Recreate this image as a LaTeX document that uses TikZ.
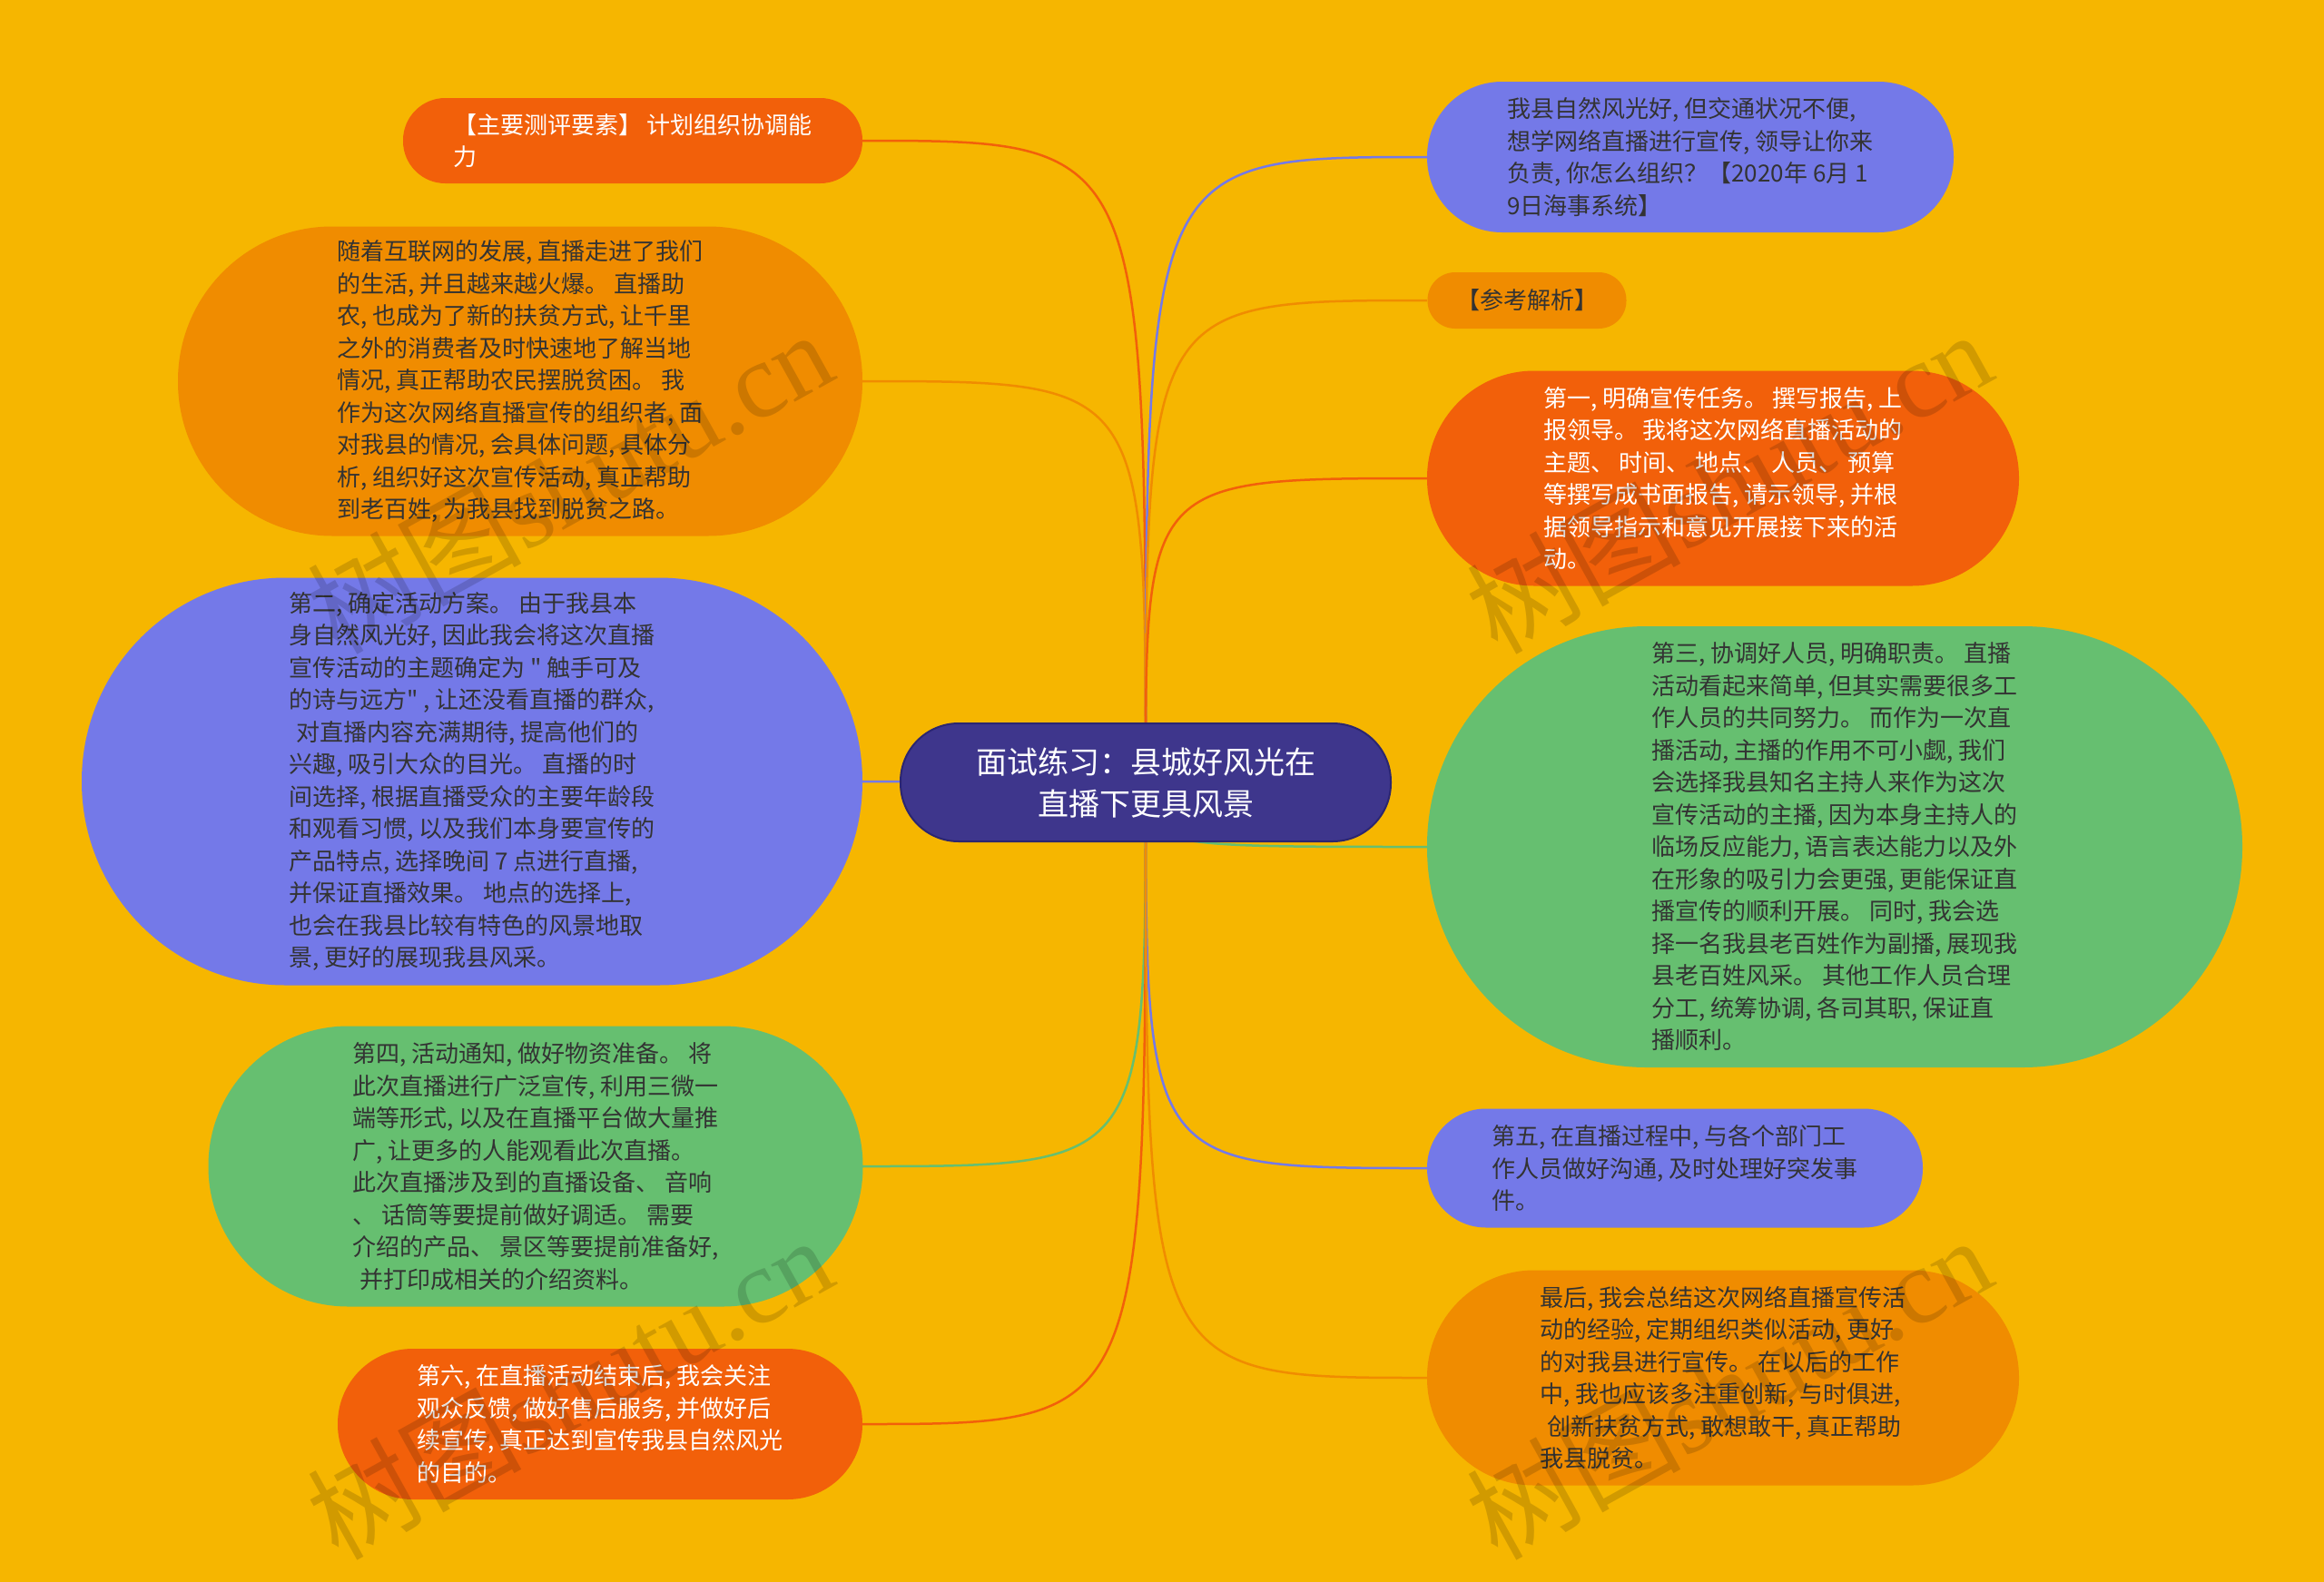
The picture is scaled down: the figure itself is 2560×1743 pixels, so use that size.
\documentclass[tikz,border=0pt]{standalone}
\usepackage{fontspec}
\setmainfont{Noto Sans CJK SC}[Ligatures=TeXOff]
\newfontfamily\wmlatin{Liberation Serif}
\usetikzlibrary{calc}
\definecolor{cbg}{HTML}{F6B600}
\definecolor{cOR}{HTML}{F2600A}
\definecolor{cOG}{HTML}{F08C00}
\definecolor{cBL}{HTML}{7479E8}
\definecolor{cGR}{HTML}{66BF70}
\definecolor{cCT}{HTML}{3E368C}
\definecolor{cCTb}{HTML}{2C2670}
\definecolor{cTX}{HTML}{333333}
\newcommand\mybody{\fontsize{26}{35.5}\selectfont}
\newcommand\mytitle{\fontsize{34}{46}\selectfont}
\begin{document}
\begin{tikzpicture}[x=1pt,y=-1pt,
  conn/.style={line width=2.5pt},
  pill/.style={rectangle, rounded corners=#1, inner sep=0pt, align=left, font=\mybody},
  wm/.style={text=black, text opacity=0.15, font=\fontsize{118}{118}\selectfont, inner sep=0pt}]
\fill[cbg] (0,0) rectangle (2560,1743);
\useasboundingbox (0,0) rectangle (2560,1743);

% center
\coordinate (c) at (1262,862);
\coordinate (n1e) at (950,155);
\coordinate (n2e) at (950,420);
\coordinate (n3e) at (950,861);
\coordinate (n4e) at (950,1285);
\coordinate (n5e) at (950,1569);
\coordinate (n7w) at (1572,173);
\coordinate (n8w) at (1572,331);
\coordinate (n9w) at (1572,527);
\coordinate (n10w) at (1572,933);
\coordinate (n11w) at (1572,1287);
\coordinate (n12w) at (1572,1518);

\draw[conn, cOR] (c) .. controls (c |- n1e) .. (n1e);
\draw[conn, cOG] (c) .. controls (c |- n2e) .. (n2e);
\draw[conn, cBL] (c) .. controls (c |- n3e) .. (n3e);
\draw[conn, cGR] (c) .. controls (c |- n4e) .. (n4e);
\draw[conn, cOR] (c) .. controls (c |- n5e) .. (n5e);
\draw[conn, cBL] (c) .. controls (c |- n7w) .. (n7w);
\draw[conn, cOG] (c) .. controls (c |- n8w) .. (n8w);
\draw[conn, cOR] (c) .. controls (c |- n9w) .. (n9w);
\draw[conn, cGR] (c) .. controls (c |- n10w) .. (n10w);
\draw[conn, cBL] (c) .. controls (c |- n11w) .. (n11w);
\draw[conn, cOG] (c) .. controls (c |- n12w) .. (n12w);

\node[pill=46.5pt, fill=cOR, text=white, minimum width=506pt, minimum height=94pt] (n1) at (697,155)
{【主要测评要素】 计划组织协调能\\力};

\node[pill=170pt, fill=cOG, text=cTX, minimum width=754pt, minimum height=341pt] (n2) at (573,420)
{随着互联网的发展, 直播走进了我们\\
的生活, 并且越来越火爆。 直播助\\
农, 也成为了新的扶贫方式, 让千里\\
之外的消费者及时快速地了解当地\\
情况, 真正帮助农民摆脱贫困。 我\\
作为这次网络直播宣传的组织者, 面\\
对我县的情况, 会具体问题, 具体分\\
析, 组织好这次宣传活动, 真正帮助\\
到老百姓, 为我县找到脱贫之路。};

\node[pill=224pt, fill=cBL, text=cTX, minimum width=860pt, minimum height=449pt] (n3) at (520,861)
{第二, 确定活动方案。 由于我县本\\
身自然风光好, 因此我会将这次直播\\
宣传活动的主题确定为 " 触手可及\\
的诗与远方" , 让还没看直播的群众,\\
\hspace*{8pt}对直播内容充满期待, 提高他们的\\
兴趣, 吸引大众的目光。 直播的时\\
间选择, 根据直播受众的主要年龄段\\
和观看习惯, 以及我们本身要宣传的\\
产品特点, 选择晚间 7 点进行直播,\\
并保证直播效果。 地点的选择上,\\
也会在我县比较有特色的风景地取\\
景, 更好的展现我县风采。};

\node[pill=154pt, fill=cGR, text=cTX, minimum width=721pt, minimum height=309pt] (n4) at (590,1285)
{第四, 活动通知, 做好物资准备。 将\\
此次直播进行广泛宣传, 利用三微一\\
端等形式, 以及在直播平台做大量推\\
广, 让更多的人能观看此次直播。\\
此次直播涉及到的直播设备、 音响\\
、 话筒等要提前做好调适。 需要\\
介绍的产品、 景区等要提前准备好,\\
\hspace*{8pt}并打印成相关的介绍资料。};

\node[pill=82.5pt, fill=cOR, text=white, minimum width=578pt, minimum height=166pt] (n5) at (661,1569)
{第六, 在直播活动结束后, 我会关注\\
观众反馈, 做好售后服务, 并做好后\\
续宣传, 真正达到宣传我县自然风光\\
的目的。};

\node[rectangle, rounded corners=64pt, fill=cCT, draw=cCTb, line width=2pt, text=white,
  minimum width=540pt, minimum height=130pt, align=center, font=\mytitle] (ct) at (c)
{面试练习：县城好风光在\\直播下更具风景};

\node[pill=82.5pt, fill=cBL, text=cTX, minimum width=580pt, minimum height=166pt] (n7) at (1862,173)
{我县自然风光好, 但交通状况不便,\\
想学网络直播进行宣传, 领导让你来\\
负责, 你怎么组织？【2020年 6月 1\\
9日海事系统】};

\node[pill=30.5pt, fill=cOG, text=cTX, minimum width=219pt, minimum height=62pt] (n8) at (1682,331)
{【参考解析】};

\node[pill=118pt, fill=cOR, text=white, minimum width=652pt, minimum height=237pt] (n9) at (1898,527)
{第一, 明确宣传任务。 撰写报告, 上\\
报领导。 我将这次网络直播活动的\\
主题、 时间、 地点、 人员、 预算\\
等撰写成书面报告, 请示领导, 并根\\
据领导指示和意见开展接下来的活\\
动。};

\node[pill=242pt, fill=cGR, text=cTX, minimum width=898pt, minimum height=486pt] (n10) at (2021,933)
{第三, 协调好人员, 明确职责。 直播\\
活动看起来简单, 但其实需要很多工\\
作人员的共同努力。 而作为一次直\\
播活动, 主播的作用不可小觑, 我们\\
会选择我县知名主持人来作为这次\\
宣传活动的主播, 因为本身主持人的\\
临场反应能力, 语言表达能力以及外\\
在形象的吸引力会更强, 更能保证直\\
播宣传的顺利开展。 同时, 我会选\\
择一名我县老百姓作为副播, 展现我\\
县老百姓风采。 其他工作人员合理\\
分工, 统筹协调, 各司其职, 保证直\\
播顺利。};

\node[pill=65pt, fill=cBL, text=cTX, minimum width=546pt, minimum height=131pt] (n11) at (1845,1287)
{第五, 在直播过程中, 与各个部门工\\
作人员做好沟通, 及时处理好突发事\\
件。};

\node[pill=118pt, fill=cOG, text=cTX, minimum width=652pt, minimum height=237pt] (n12) at (1898,1518)
{最后, 我会总结这次网络直播宣传活\\
动的经验, 定期组织类似活动, 更好\\
的对我县进行宣传。 在以后的工作\\
中, 我也应该多注重创新, 与时俱进,\\
\hspace*{8pt}创新扶贫方式, 敢想敢干, 真正帮助\\
我县脱贫。};

% watermarks (on top, translucent)
\node[wm, rotate=29] (w1) at (627,530) {树图{\wmlatin shutu.cn}};
\node[wm, rotate=29] (w2) at (1904,530) {树图{\wmlatin shutu.cn}};
\node[wm, rotate=29] (w3) at (627,1528) {树图{\wmlatin shutu.cn}};
\node[wm, rotate=29] (w4) at (1904,1528) {树图{\wmlatin shutu.cn}};
\end{tikzpicture}
\end{document}
